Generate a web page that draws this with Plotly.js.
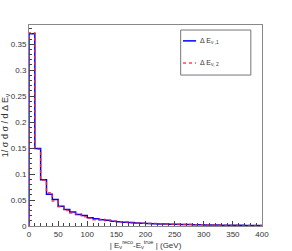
<!DOCTYPE html>
<html><head><meta charset="utf-8">
<script src="https://cdn.plot.ly/plotly-3.0.1.min.js"></script>
<style>html,body{margin:0;padding:0;background:#fff}#c{width:292px;height:251px}</style>
</head><body><div id="c"></div>
<script>
const binEdges = [0,10,20,30,40,50,60,70,80,90,100,110,120,130,140,150,160,170,180,190,200,210,220,230,240,250,260,270,280,290,300,310,320,330,340,350,360,370,380,390,400];
const series1 = [0.370,0.149,0.089,0.061,0.051,0.038,0.032,0.027,0.022,0.020,0.016,0.014,0.012,0.011,0.009,0.008,0.007,0.0065,0.006,0.0055,0.005,0.0045,0.004,0.0038,0.0035,0.0032,0.003,0.0028,0.0025,0.0023,0.0021,0.002,0.0018,0.0016,0.0015,0.0014,0.0013,0.0012,0.0011,0.001];
const series2 = [0.372,0.148,0.088,0.064,0.048,0.037,0.030,0.025,0.023,0.018,0.015,0.012,0.013,0.010,0.009,0.008,0.0075,0.006,0.0058,0.0052,0.0048,0.0046,0.0041,0.0036,0.0034,0.0031,0.0029,0.0027,0.0026,0.0022,0.002,0.0019,0.0017,0.0016,0.0014,0.0013,0.0012,0.0011,0.001,0.001];
const name1 = 'Δ E<sub>ν ,1</sub>';
const name2 = 'Δ E<sub>ν, 2</sub>';
const color1 = '#0000ff';
const color2 = 'rgba(255,40,40,0.85)';

function step(vals){
  const x=[binEdges[0]], y=[0];
  for(let i=0;i<vals.length;i++){ x.push(binEdges[i]); y.push(vals[i]); }
  x.push(binEdges[vals.length]); y.push(vals[vals.length-1]);
  return {x,y};
}
const s1=step(series1), s2=step(series2);
const data=[
 {x:s1.x,y:s1.y,type:'scatter',mode:'lines',line:{shape:'hv',color:color1,width:1.5},name:name1},
 {x:s2.x,y:s2.y,type:'scatter',mode:'lines',line:{shape:'hv',color:color2,width:1.5,dash:'dot'},name:name2}
];
const fam='Liberation Sans, Arial, sans-serif';
const axcommon={ticks:'inside',showline:true,linecolor:'#888',linewidth:1,mirror:true,showgrid:false,zeroline:false,
  tickfont:{family:fam,size:8,color:'#333'},tickcolor:'#444'};
const layout={
 width:292,height:251,margin:{l:29,r:30,t:25,b:25},paper_bgcolor:'#fff',plot_bgcolor:'#fff',
 showlegend:false,
 xaxis:Object.assign({},axcommon,{range:[0,400],tick0:0,dtick:50,ticklen:5,
   minor:{ticks:'inside',dtick:10,ticklen:3,tickcolor:'#444'},
   title:{text:'| E<sub>ν</sub><sup>reco</sup>-E<sub>ν</sub><sup>true</sup> | (GeV)',font:{family:fam,size:8,color:'#333'},standoff:4}}),
 yaxis:Object.assign({},axcommon,{range:[0,0.387],tick0:0,dtick:0.05,ticklen:6,
   minor:{ticks:'inside',dtick:0.01,ticklen:3,tickcolor:'#444'},
   title:{text:'1/ σ d σ / d Δ E<sub>ν</sub>',font:{family:fam,size:9,color:'#333'},standoff:2}}),
 shapes:[
  {type:'rect',xref:'paper',yref:'paper',x0:0.651,x1:0.952,y0:0.751,y1:0.975,line:{color:'#777',width:1}},
  {type:'line',xref:'paper',yref:'paper',x0:0.661,x1:0.717,y0:0.921,y1:0.921,line:{color:color1,width:1.5}},
  {type:'line',xref:'paper',yref:'paper',x0:0.661,x1:0.717,y0:0.811,y1:0.811,line:{color:color2,width:1.5,dash:'dot'}}
 ],
 annotations:[
  {xref:'paper',yref:'paper',x:0.725,y:0.921,xanchor:'left',yanchor:'middle',text:name1,showarrow:false,font:{family:fam,size:7,color:'#333'}},
  {xref:'paper',yref:'paper',x:0.725,y:0.811,xanchor:'left',yanchor:'middle',text:name2,showarrow:false,font:{family:fam,size:7,color:'#333'}}
 ]
};
Plotly.newPlot('c',data,layout,{displayModeBar:false,staticPlot:true});
</script></body></html>
